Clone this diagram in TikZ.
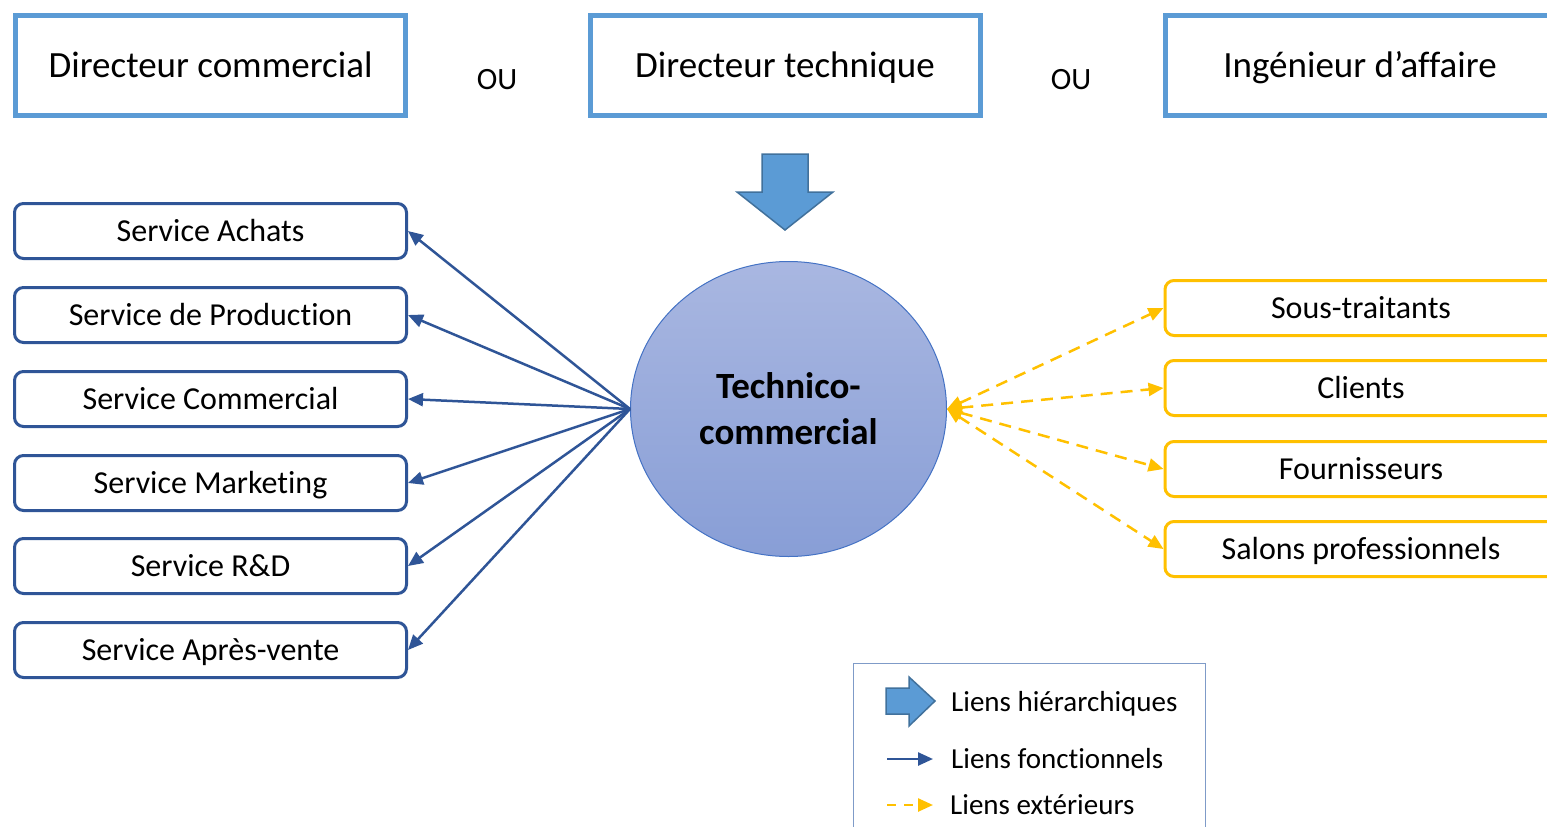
\documentclass[tikz,border=0pt]{standalone}
\usepackage{fontspec}
\setmainfont{Carlito}[Ligatures=NoCommon]
\usetikzlibrary{shapes.geometric,arrows.meta}

\definecolor{bleuclair}{HTML}{5B9BD5}
\definecolor{bleubord}{HTML}{41719C}
\definecolor{bleufonce}{HTML}{2F5597}
\definecolor{jaune}{HTML}{FFC000}
\definecolor{ovalhaut}{HTML}{A9B7E1}
\definecolor{ovalbas}{HTML}{889ED6}
\definecolor{ovalbord}{HTML}{4472C4}
\definecolor{cadre}{HTML}{7F9BC8}

\tikzset{pointe/.tip={Triangle[length=15pt,width=13pt]}}

\begin{document}
\begin{tikzpicture}[x=1pt, y=-1pt,
                poste/.style={shape=rectangle, draw=bleuclair, line width=5pt, minimum width=390pt, minimum height=100pt,
                    font=\fontsize{37}{44}\selectfont, text height=31pt, text depth=7pt},
                service/.style={shape=rectangle, rounded corners=9pt, draw=bleufonce, line width=3pt, minimum width=392pt, minimum height=55pt,
                    font=\fontsize{32}{38}\selectfont, text height=27pt, text depth=6.5pt},
                externe/.style={service, draw=jaune},
                ou/.style={font=\fontsize{31}{36}\selectfont, text height=26pt, text depth=6pt},
                legende/.style={anchor=west, inner sep=0pt, font=\fontsize{29}{34}\selectfont, text height=24.5pt, text depth=5.8pt},
                fonction/.style={draw=bleufonce, line width=2.5pt, -pointe},
                exterieur/.style={draw=jaune, line width=2.5pt, dash pattern=on 12pt off 8pt},
                bloc/.style={fill=bleuclair, draw=bleubord, line width=1.5pt, line join=miter},
            ]
            \useasboundingbox (0,0) rectangle (1547,827);

            % postes possibles
            \node[poste] (dc) at (210.5, 65.5) {Directeur commercial};
            \node[poste] (dt) at (785, 65.5) {Directeur technique};
            \node[poste] (ia) at (1360, 65.5) {Ingénieur d’affaire};
            \node[ou] (ou1) at (497, 79) {OU};
            \node[ou] (ou2) at (1071, 79) {OU};

            % fleche hierarchique
            \draw[bloc] (762,154) -- (808,154) -- (808,192) -- (833,192) -- (785,230) -- (737,192) -- (762,192) -- cycle;

            \node[ellipse, draw=ovalbord, line width=1pt, top color=ovalhaut, bottom color=ovalbas,
                minimum width=316pt, minimum height=295pt, inner sep=0pt, align=center,
                font=\bfseries\fontsize{37}{46}\selectfont] (tc) at (788.5, 409) {Technico-\\commercial};

            % services internes
            \node[service] (achats) at (210.5, 231) {Service Achats};
            \node[service] (prod) at (210.5, 315) {Service de Production};
            \node[service] (comm) at (210.5, 399) {Service Commercial};
            \node[service] (mark) at (210.5, 483) {Service Marketing};
            \node[service] (rd) at (210.5, 566) {Service R\&D};
            \node[service] (sav) at (210.5, 650) {Service Après-vente};

            % partenaires exterieurs
            \node[externe] (st) at (1361, 308) {Sous-traitants};
            \node[externe] (cli) at (1361, 388) {Clients};
            \node[externe] (four) at (1361, 469) {Fournisseurs};
            \node[externe] (salon) at (1361, 549) {Salons professionnels};

            \draw[fonction] (tc.west) -- (achats.east);
            \draw[fonction] (tc.west) -- (prod.east);
            \draw[fonction] (tc.west) -- (comm.east);
            \draw[fonction] (tc.west) -- (mark.east);
            \draw[fonction] (tc.west) -- (rd.east);
            \draw[fonction] (tc.west) -- (sav.east);

            \draw[exterieur, pointe-pointe] (tc.east) -- (st.west);
            \draw[exterieur, pointe-pointe] (tc.east) -- (cli.west);
            \draw[exterieur, pointe-pointe] (tc.east) -- (four.west);
            \draw[exterieur, pointe-pointe] (tc.east) -- (salon.west);

            % legende
            \draw[cadre, line width=1pt] (853,663) rectangle (1205,850);
            \draw[bloc] (886,688) -- (909,688) -- (909,677) -- (935,701) -- (909,726) -- (909,714) -- (886,714) -- cycle;
            \coordinate (f1) at (887,759);
            \coordinate (f2) at (933,759);
            \coordinate (e1) at (887,805);
            \coordinate (e2) at (933,805);
            \draw[fonction] (f1) -- (f2);
            \draw[exterieur, dash pattern=on 9pt off 8pt, -pointe] (e1) -- (e2);
            \node[legende] (lh) at (951, 702) {Liens hiérarchiques};
            \node[legende] (lf) at (951, 759) {Liens fonctionnels};
            \node[legende] (le) at (950, 805) {Liens extérieurs};
        \end{tikzpicture}
\end{document}
